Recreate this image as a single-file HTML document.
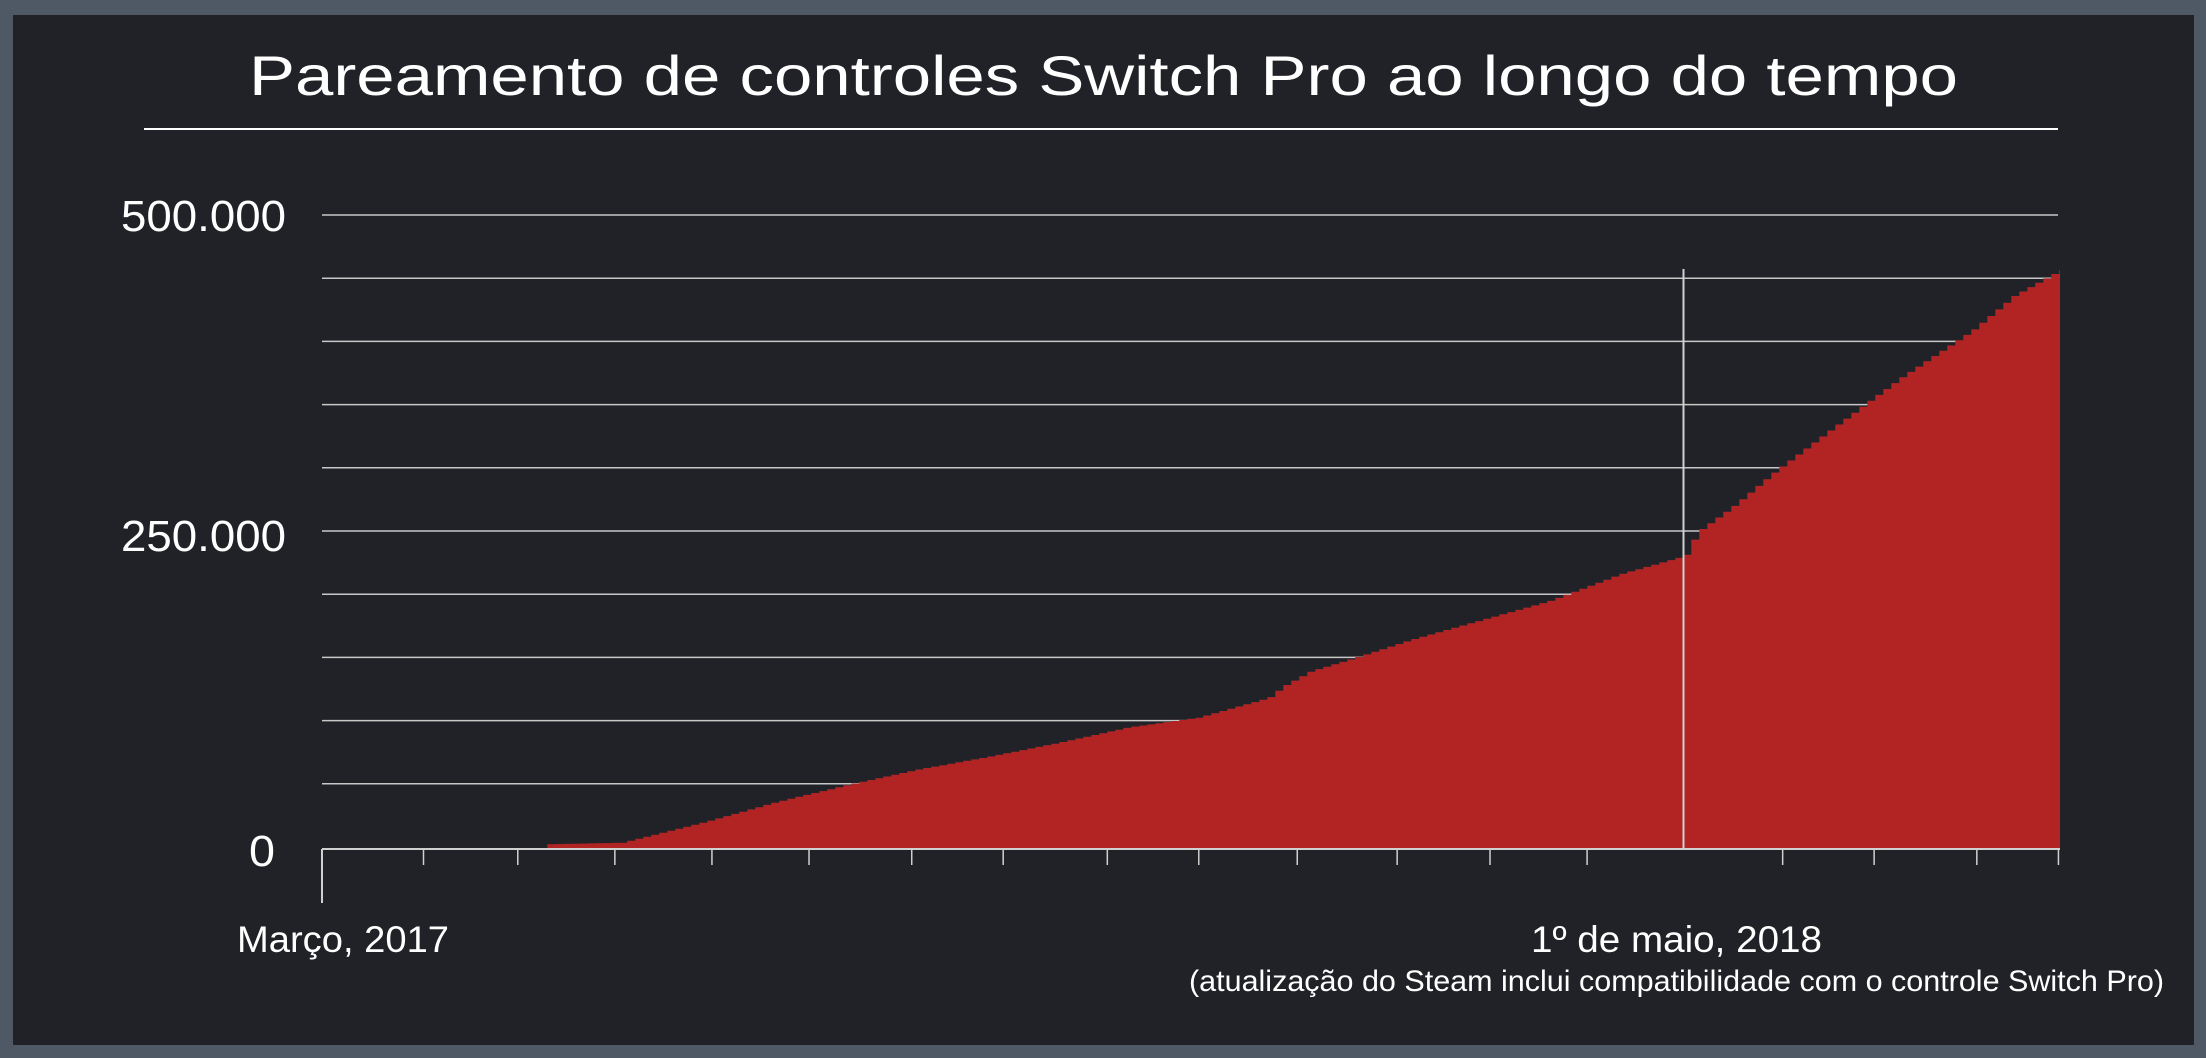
<!DOCTYPE html>
<html><head><meta charset="utf-8"><style>
html,body{margin:0;padding:0;background:#4f5966;}
svg{display:block;}
text{font-family:"Liberation Sans",sans-serif;fill:#fff;}
</style></head><body>
<svg id="s" width="2206" height="1058" viewBox="0 0 2206 1058" xmlns="http://www.w3.org/2000/svg">
<rect x="0" y="0" width="2206" height="1058" fill="#4f5966"/>
<rect x="13" y="15" width="2181" height="1030" fill="#212227"/>
<text x="249" y="95" font-size="56" textLength="1709" lengthAdjust="spacingAndGlyphs">Pareamento de controles Switch Pro ao longo do tempo</text>
<rect x="144" y="128" width="1914" height="2" fill="#fff"/>
<g id="grid" stroke="#c8c8c8" stroke-width="1.5"></g>
<path id="area" fill="#b22424"/>
<line x1="1683.5" y1="269" x2="1683.5" y2="849" stroke="#d0d0d0" stroke-width="2"/>
<g id="ticks" stroke="#d0d0d0" stroke-width="1.5"></g>
<line x1="322" y1="849" x2="2060" y2="849" stroke="#d0d0d0" stroke-width="2"/>
<line x1="322" y1="849" x2="322" y2="903" stroke="#d0d0d0" stroke-width="2"/>
<text x="121" y="231" font-size="44" textLength="165" lengthAdjust="spacingAndGlyphs">500.000</text>
<text x="121" y="551" font-size="44" textLength="165" lengthAdjust="spacingAndGlyphs">250.000</text>
<text x="249" y="866" font-size="44" textLength="26" lengthAdjust="spacingAndGlyphs">0</text>
<text x="237" y="952" font-size="37" textLength="212" lengthAdjust="spacingAndGlyphs">Março, 2017</text>
<text x="1531" y="952" font-size="37" textLength="291" lengthAdjust="spacingAndGlyphs">1º de maio, 2018</text>
<text x="1189" y="991" font-size="30" textLength="975" lengthAdjust="spacingAndGlyphs">(atualização do Steam inclui compatibilidade com o controle Switch Pro)</text>
</svg>
<script>
var S=1.407,ns="http://www.w3.org/2000/svg";
var g=document.getElementById('grid');
for(var i=0;i<10;i++){var y=215+i*63.2;var l=document.createElementNS(ns,'line');l.setAttribute('x1',322);l.setAttribute('x2',2058);l.setAttribute('y1',y);l.setAttribute('y2',y);g.appendChild(l);}
var t=document.getElementById('ticks');
[301,368,437,506,575,648,713,787,852,922,993,1059,1128,1267,1332,1405,1463].forEach(function(x){var X=x*S;var l=document.createElementNS(ns,'line');l.setAttribute('x1',X);l.setAttribute('x2',X);l.setAttribute('y1',849);l.setAttribute('y2',865);t.appendChild(l);});
var P=[[389,600],[440,599],[460,594],[500,584],[550,570],[600,558],[650,547],[700,538],[750,528],[800,517],[850,510],[900,496],[910,488],[930,477],[960,468],[1000,455],[1050,441],[1100,427],[1150,408],[1196,395],[1205,378],[1230,360],[1260,335],[1300,305],[1350,268],[1400,235],[1430,210],[1463,192]];
function f(x){for(var i=0;i<P.length-1;i++){if(x<=P[i+1][0]){var a=P[i],b=P[i+1];return a[1]+(b[1]-a[1])*(x-a[0])/(b[0]-a[0]);}}return P[P.length-1][1];}
var d='M'+(389*S)+',849 ';var step=8;
for(var X=389*S;X<2060;X+=step){var y=f(X/S)*S;if(y>846)y=846;d+='L'+X.toFixed(1)+','+y.toFixed(1)+' L'+Math.min(X+step,2060).toFixed(1)+','+y.toFixed(1)+' ';}
d+='L2060,270 L2060,849 Z';
document.getElementById('area').setAttribute('d',d);
</script>
</body></html>
